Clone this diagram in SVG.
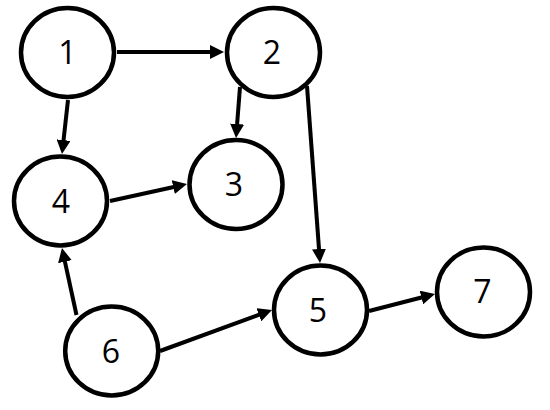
<svg xmlns="http://www.w3.org/2000/svg" width="550" height="410" viewBox="0 0 550 410">
  <style>
    .node ellipse { fill: #ffffff; stroke: #000000; stroke-width: 4.5; }
    .node text { font-family: "Open Sans", "Liberation Sans", sans-serif; font-size: 32px; fill: #000000; text-anchor: middle; }
    .edge { stroke: #000000; stroke-width: 4; fill: none; marker-end: url(#arrow); }
  </style>
  <defs>
    <marker id="arrow" markerUnits="userSpaceOnUse" markerWidth="14" markerHeight="14" refX="4" refY="7" orient="auto">
      <path d="M0,0 L14,7 L0,14 Z" fill="#000000"/>
    </marker>
  </defs>
  <rect width="550" height="410" fill="#ffffff"/>
  <g id="connectors">
    <line class="edge" x1="117" y1="52" x2="214" y2="52"/>
    <line class="edge" x1="68" y1="100" x2="63.1" y2="144.1"/>
    <line class="edge" x1="240" y1="87" x2="236.8" y2="128"/>
    <line class="edge" x1="307" y1="86" x2="319.3" y2="253"/>
    <line class="edge" x1="110" y1="201" x2="177.2" y2="186.2"/>
    <line class="edge" x1="76.5" y1="315" x2="64.1" y2="257.8"/>
    <line class="edge" x1="160" y1="351" x2="262.6" y2="313.4"/>
    <line class="edge" x1="369" y1="311" x2="425.3" y2="296.5"/>
  </g>
  <g id="node1" class="node"><ellipse cx="67.5" cy="52.5" rx="46.5" ry="44.5"/><text x="67.5" y="64">1</text></g>
  <g id="node2" class="node"><ellipse cx="273.5" cy="52.5" rx="46.5" ry="44.5"/><text x="272" y="64">2</text></g>
  <g id="node3" class="node"><ellipse cx="236" cy="184.5" rx="46.5" ry="44.5"/><text x="234" y="196">3</text></g>
  <g id="node4" class="node"><ellipse cx="60.5" cy="201" rx="46.5" ry="44.5"/><text x="61" y="213">4</text></g>
  <g id="node5" class="node"><ellipse cx="320.5" cy="310" rx="46.5" ry="44.5"/><text x="318" y="321.5">5</text></g>
  <g id="node6" class="node"><ellipse cx="111.7" cy="351" rx="46.5" ry="44.5"/><text x="111" y="362.5">6</text></g>
  <g id="node7" class="node"><ellipse cx="483.5" cy="292" rx="46.5" ry="44.5"/><text x="482.5" y="303">7</text></g>
</svg>
